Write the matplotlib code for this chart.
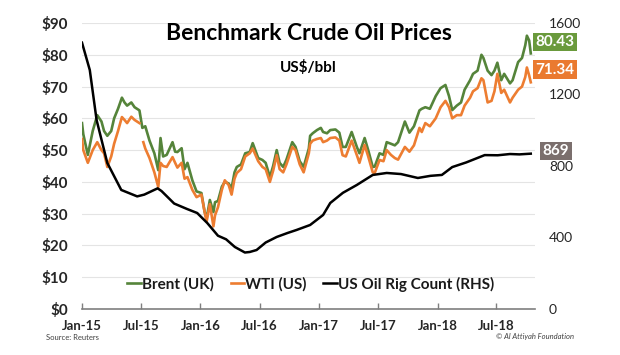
import matplotlib
matplotlib.use("Agg")
import matplotlib.pyplot as plt
import pandas as pd
import numpy as np

# Brent (UK), US$/bbl
brent_dates = ["2015-01-01", "2015-01-05", "2015-01-19", "2015-02-03", "2015-02-17", "2015-03-02",
               "2015-03-10", "2015-03-20", "2015-04-01", "2015-04-10", "2015-04-22", "2015-05-04",
               "2015-05-12", "2015-05-20", "2015-06-02", "2015-06-12", "2015-06-27", "2015-07-06",
               "2015-07-15", "2015-07-28", "2015-08-12", "2015-08-24", "2015-08-31", "2015-09-08",
               "2015-09-19", "2015-10-07", "2015-10-15", "2015-10-22", "2015-11-04", "2015-11-13",
               "2015-11-22", "2015-12-07", "2015-12-20", "2016-01-04", "2016-01-14", "2016-01-20",
               "2016-01-30", "2016-02-10", "2016-02-15", "2016-02-24", "2016-03-07", "2016-03-16",
               "2016-03-28", "2016-04-06", "2016-04-15", "2016-04-22", "2016-05-05", "2016-05-18",
               "2016-06-01", "2016-06-10", "2016-06-27", "2016-07-10", "2016-07-20", "2016-08-02",
               "2016-08-12", "2016-08-23", "2016-09-01", "2016-09-12", "2016-09-22", "2016-10-10",
               "2016-10-20", "2016-11-02", "2016-11-14", "2016-11-30", "2016-12-04", "2016-12-12",
               "2016-12-25", "2017-01-06", "2017-01-13", "2017-01-25", "2017-02-04", "2017-02-20",
               "2017-03-04", "2017-03-14", "2017-03-24", "2017-04-11", "2017-04-27", "2017-05-05",
               "2017-05-21", "2017-06-01", "2017-06-15", "2017-06-21", "2017-07-06", "2017-07-18",
               "2017-07-28", "2017-08-10", "2017-08-22", "2017-09-01", "2017-09-22", "2017-10-06",
               "2017-10-20", "2017-11-06", "2017-11-13", "2017-11-24", "2017-12-08", "2017-12-26",
               "2018-01-10", "2018-01-25", "2018-02-05", "2018-02-15", "2018-03-01", "2018-03-14",
               "2018-03-25", "2018-04-11", "2018-04-20", "2018-05-04", "2018-05-16", "2018-05-22",
               "2018-06-04", "2018-06-16", "2018-06-25", "2018-07-04", "2018-07-16", "2018-07-25",
               "2018-08-12", "2018-08-20", "2018-09-06", "2018-09-18", "2018-09-28", "2018-10-03",
               "2018-10-10", "2018-10-15"]
brent = [58.5, 55, 48.5, 56, 61, 59, 56, 54.5, 56, 60, 63, 66.5,
         65, 64, 65, 63.5, 62.5, 57, 57.5, 53, 49, 43.7, 53.8, 48,
         48.5, 52.5, 49.5, 49.4, 50.6, 44, 46, 40.5, 37, 36.5, 30.5, 28.5,
         34.3, 30.5, 33.6, 34, 38.5, 40, 39.5, 38, 43, 44.7, 45.5, 49,
         49.4, 52.2, 47.5, 46.9, 46, 41.5, 45, 50, 46, 44.7, 47, 52.5,
         51, 46.5, 44.7, 50.5, 54.5, 55.3, 56.3, 57, 55.7, 55.3, 56.3, 56.5,
         55.5, 51, 51, 55.7, 51, 49, 53.8, 50, 44.7, 44.8, 49, 48.5,
         52.5, 52, 51.5, 52.5, 59, 55.5, 57.5, 62.5, 63, 63.5, 63, 67,
         69.5, 70.5, 67, 62.6, 64, 65, 69, 72, 74, 75, 80, 79,
         75, 73.6, 75, 77.5, 72, 74, 71, 72, 77.7, 79, 83, 86,
         84.5, 80.43]

# WTI (US), US$/bbl; NaN marks the short break in early July 2015
wti_dates = ["2015-01-01", "2015-01-05", "2015-01-19", "2015-02-03", "2015-02-17", "2015-03-02",
             "2015-03-10", "2015-03-20", "2015-04-01", "2015-04-10", "2015-04-22", "2015-05-04",
             "2015-05-12", "2015-05-20", "2015-06-02", "2015-06-12", "2015-06-27", "2015-07-02",
             "2015-07-09", "2015-07-15", "2015-07-28", "2015-08-12", "2015-08-24", "2015-08-31",
             "2015-09-08", "2015-09-19", "2015-10-07", "2015-10-15", "2015-10-22", "2015-11-04",
             "2015-11-13", "2015-11-22", "2015-12-07", "2015-12-20", "2016-01-04", "2016-01-14",
             "2016-01-20", "2016-01-30", "2016-02-10", "2016-02-15", "2016-02-24", "2016-03-07",
             "2016-03-16", "2016-03-28", "2016-04-06", "2016-04-15", "2016-04-22", "2016-05-05",
             "2016-05-18", "2016-06-01", "2016-06-10", "2016-06-27", "2016-07-10", "2016-07-20",
             "2016-08-02", "2016-08-12", "2016-08-23", "2016-09-01", "2016-09-12", "2016-09-22",
             "2016-10-10", "2016-10-20", "2016-11-02", "2016-11-14", "2016-11-30", "2016-12-04",
             "2016-12-12", "2016-12-25", "2017-01-06", "2017-01-13", "2017-01-25", "2017-02-04",
             "2017-02-20", "2017-03-04", "2017-03-14", "2017-03-24", "2017-04-11", "2017-04-27",
             "2017-05-05", "2017-05-21", "2017-06-01", "2017-06-15", "2017-06-21", "2017-07-06",
             "2017-07-18", "2017-07-28", "2017-08-10", "2017-08-22", "2017-09-01", "2017-09-22",
             "2017-10-06", "2017-10-20", "2017-11-06", "2017-11-13", "2017-11-24", "2017-12-08",
             "2017-12-26", "2018-01-10", "2018-01-25", "2018-02-05", "2018-02-15", "2018-03-01",
             "2018-03-14", "2018-03-25", "2018-04-11", "2018-04-20", "2018-05-04", "2018-05-16",
             "2018-05-22", "2018-06-04", "2018-06-16", "2018-06-25", "2018-07-04", "2018-07-16",
             "2018-07-25", "2018-08-12", "2018-08-20", "2018-09-06", "2018-09-18", "2018-09-28",
             "2018-10-03", "2018-10-10", "2018-10-15"]
wti = [53.5, 50, 46, 50, 52.5, 50, 49, 44.7, 48, 52, 56, 60.4,
       59.5, 58.5, 60.5, 59.5, 58.5, np.nan, 52.5, 50.5, 47.5, 43, 38.4, 46,
       45, 44.7, 47.8, 46, 44.5, 46, 41, 41.5, 37.5, 35.2, 36, 30.5,
       27.5, 33, 26, 29.5, 32, 37.5, 40.5, 39, 36, 41, 42.8, 44,
       48, 49, 50.5, 46.5, 44.7, 44, 40, 43.5, 48.4, 44, 43, 45.5,
       51, 50, 45.5, 43, 49, 52, 53, 53.5, 53.8, 52.5, 53, 53.8,
       54, 53, 48.4, 48, 53, 48.4, 46, 51.6, 48, 43, 42.8, 46.9,
       46.5, 50, 48.5, 47.5, 47, 51, 49.5, 51.5, 57, 55.7, 58.5, 57.5,
       60, 63.5, 65.5, 63.5, 60, 61, 61, 64, 66.5, 68.5, 69.5, 72.6,
       72, 65, 65.5, 68.5, 74, 68, 69, 65, 66.5, 69, 70, 73,
       76, 73.5, 71.34]

# US oil rig count (RHS)
rig_dates = ["2015-01-01", "2015-01-25", "2015-02-15", "2015-03-20", "2015-05-02", "2015-06-20",
             "2015-07-12", "2015-08-22", "2015-09-03", "2015-10-12", "2015-11-20", "2015-12-22",
             "2016-01-22", "2016-02-24", "2016-03-20", "2016-04-16", "2016-05-17", "2016-06-01",
             "2016-06-22", "2016-07-20", "2016-08-23", "2016-09-25", "2016-10-23", "2016-12-04",
             "2017-01-13", "2017-02-04", "2017-03-15", "2017-04-27", "2017-06-15", "2017-07-28",
             "2017-09-10", "2017-11-01", "2017-12-10", "2018-01-14", "2018-02-15", "2018-03-30",
             "2018-05-26", "2018-07-05", "2018-08-12", "2018-09-10", "2018-10-15"]
rig = [1490, 1337, 1057, 817, 666, 630,
       640, 675, 660, 590, 560, 537,
       481, 410, 390, 347, 316, 319,
       330, 372, 403, 425, 442, 470,
       526, 593, 650, 694, 750, 761,
       755, 733, 745, 750, 794, 820,
       861, 860, 867, 865, 869]

price_ticks = np.arange(0, 100, 10)
rig_ticks = [0, 400, 800, 1200, 1600]
month_ticks = ["2015-01-01", "2015-07-01", "2016-01-01", "2016-07-01",
               "2017-01-01", "2017-07-01", "2018-01-01", "2018-07-01"]
month_labels = ["Jan-15", "Jul-15", "Jan-16", "Jul-16", "Jan-17", "Jul-17", "Jan-18", "Jul-18"]

green = "#55843a"
orange = "#ed7d31"

plt.rcParams['font.family'] = ['Lato', 'DejaVu Sans']

fig = plt.figure(figsize=(6.2, 3.55), dpi=100)
ax = fig.add_axes([82 / 620, 1 - 309 / 355, 453 / 620, 286 / 355])
ax2 = ax.twinx()

l1, = ax.plot(pd.to_datetime(brent_dates), brent, color=green, lw=1.9, label="Brent (UK)")
l2, = ax.plot(pd.to_datetime(wti_dates), wti, color=orange, lw=1.9, label="WTI (US)")
l3, = ax2.plot(pd.to_datetime(rig_dates), rig, color="black", lw=1.8, label="US Oil Rig Count (RHS)")

ax.set_xlim(pd.Timestamp("2015-01-01"), pd.Timestamp("2018-10-28"))
ax.set_ylim(0, 90)
ax2.set_ylim(0, 1600)

ax.set_yticks(price_ticks)
ax.set_yticklabels(["$%d" % v for v in price_ticks], fontsize=11, fontweight="bold", color="#262626")
ax2.set_yticks(rig_ticks)
ax2.set_yticklabels([str(v) for v in rig_ticks], fontsize=10, color="#262626")
ax.set_xticks(pd.to_datetime(month_ticks))
ax.set_xticklabels(month_labels, fontsize=9.5, fontweight="bold", color="#262626")

ax.grid(axis="y", color="#e4e4e4", lw=0.8)
ax.set_axisbelow(True)
for a in (ax, ax2):
    for s in ("top", "right", "left"):
        a.spines[s].set_visible(False)
ax2.spines["bottom"].set_visible(False)
ax.spines["bottom"].set_color("#7f7f7f")
ax.spines["bottom"].set_linewidth(1.2)
ax.tick_params(axis="x", direction="in", length=4, color="#7f7f7f", width=1, pad=8)
ax.tick_params(axis="y", length=0, pad=10)
ax2.tick_params(axis="y", length=0, pad=10)

leg = ax.legend(handles=[l1, l2, l3], loc="center", bbox_to_anchor=(0.505, 0.087), ncol=3,
                frameon=False, prop={"size": 11, "weight": "bold"}, handlelength=0.9,
                handletextpad=0.05, columnspacing=1.1)
for t in leg.get_texts():
    t.set_color("#1a1a1a")

fig.text(309 / 620, 1 - 33 / 355, "Benchmark Crude Oil Prices", ha="center", va="center",
         fontsize=16.5, fontweight="bold")
fig.text(308 / 620, 1 - 68 / 355, "US$/bbl", ha="center", va="center", fontsize=11,
         fontweight="bold")

box_x = 555 / 620
fig.text(box_x, 1 - 42 / 355, "80.43", ha="center", va="center", fontsize=11, fontweight="bold",
         color="white", bbox=dict(boxstyle="square,pad=0.15", fc="#6a9a3c", ec="none"))
fig.text(box_x, 1 - 69.5 / 355, "71.34", ha="center", va="center", fontsize=11, fontweight="bold",
         color="white", bbox=dict(boxstyle="square,pad=0.15", fc="#ea7a30", ec="none"))
fig.text(556 / 620, 1 - 151 / 355, "869", ha="center", va="center", fontsize=11, fontweight="bold",
         color="white", bbox=dict(boxstyle="square,pad=0.15", fc="#7b6f6d", ec="none"))

fig.text(46 / 620, 1 - 338 / 355, "Source: Reuters", fontsize=5.5, color="#404040", va="center")
fig.text(574 / 620, 1 - 336 / 355, "© Al Attiyah Foundation", fontsize=5.5, style="italic",
         color="#404040", va="center", ha="right")

fig.savefig("out.png", dpi=100)
